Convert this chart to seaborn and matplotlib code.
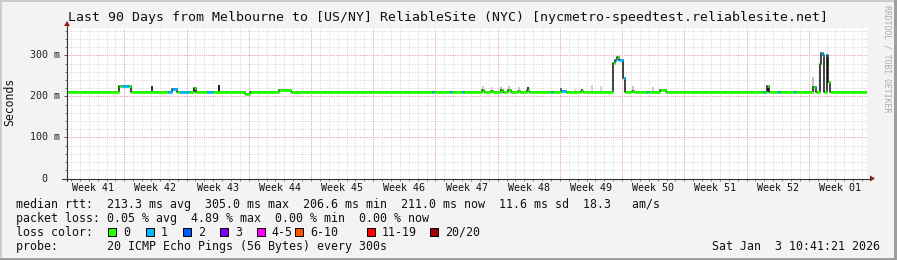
import numpy as np
import pandas as pd
import matplotlib
matplotlib.use("Agg")
import matplotlib.pyplot as plt
import seaborn as sns
from matplotlib.patches import Rectangle, Polygon
from matplotlib.lines import Line2D

# ---------------- data ----------------
# median rtt as a step series: start day (from left edge of the 90-day window), rtt in ms, lost pings (of 20)
seg_day = [0.00, 5.85, 6.19, 6.98, 7.20, 11.37, 11.82, 12.38, 12.72, 13.73,
           14.24, 14.52, 15.75, 16.43, 20.03, 20.59, 23.86, 25.21, 41.08, 41.30,
           43.10, 43.33, 44.45, 44.68, 46.70, 46.90, 47.70, 47.90, 48.84, 49.07,
           49.63, 49.97, 50.75, 50.98, 51.77, 52.00, 54.47, 54.70, 55.59, 56.16,
           57.84, 58.07, 61.41, 61.67, 61.90, 62.10, 62.57, 62.80, 63.58, 63.80,
           65.16, 65.38, 66.74, 67.41, 78.33, 78.55, 78.77, 79.00, 80.00, 80.23,
           81.82, 82.04, 83.90, 84.12, 84.29, 84.69, 84.85, 85.02, 85.20, 85.47,
           85.64, 85.80]
seg_rtt = [211, 226, 226, 226, 211, 211, 218, 211, 211, 211,
           220, 211, 211, 211, 205, 211, 215, 211, 211, 211,
           211, 211, 211, 211, 215, 211, 214, 211, 216, 211,
           216, 211, 214, 211, 216, 211, 211, 211, 213, 211,
           214, 211, 282, 288, 297, 288, 245, 211, 213, 211,
           211, 211, 215, 211, 211, 211, 226, 211, 211, 211,
           211, 211, 224, 222, 211, 279, 305, 300, 211, 300,
           236, 211]
seg_loss = [0, 0, 1, 0, 0, 1, 1, 0, 1, 0,
            0, 0, 1, 0, 0, 0, 0, 0, 1, 0,
            1, 0, 1, 0, 0, 0, 0, 0, 0, 0,
            0, 0, 0, 0, 0, 0, 1, 0, 1, 0,
            0, 0, 0, 1, 0, 1, 1, 0, 0, 0,
            1, 0, 0, 0, 1, 0, 0, 0, 1, 0,
            1, 0, 0, 1, 0, 0, 1, 1, 0, 1,
            0, 0]
end_day = 90.0

# smoke (spread of the individual pings) around the median
smoke_day = [9.56, 14.30, 17.10, 46.80, 47.80, 48.80, 49.70, 50.90, 51.90, 55.60,
             57.20, 57.96, 59.10, 60.10, 63.70, 65.95, 78.90, 83.95]
smoke_hi = [225, 220, 228, 226, 224, 222, 226, 222, 224, 221,
            218, 218, 228, 226, 226, 224, 228, 248]
smoke_shade = ['#222222', '#333333', '#111111', '#C8C8C8', '#D0D0D0', '#B0B0B0', '#C0C0C0',
               '#C8C8C8', '#202020', '#606060', '#D8D8D8', '#505050', '#D0D0D0', '#D0D0D0',
               '#C0C0C0', '#C8C8C8', '#202020', '#C0C0C0']

week_labels = ["Week 41", "Week 42", "Week 43", "Week 44", "Week 45", "Week 46", "Week 47",
               "Week 48", "Week 49", "Week 50", "Week 51", "Week 52", "Week 01"]
first_boundary = 6.45   # day of the first Monday boundary shown (Week 42 start)

y_major = [0, 100, 200, 300]
y_major_labels = ["0  ", "100 m", "200 m", "300 m"]
y_top = 367

loss_names = ["0", "1", "2", "3", "4-5", "6-10", "11-19", "20/20"]
loss_colors = ["#26ff00", "#00b8ff", "#0059ff", "#7e00ff", "#ff00ff", "#ff5500", "#ff0000", "#a00000"]

title = "Last 90 Days from Melbourne to [US/NY] ReliableSite (NYC) [nycmetro-speedtest.reliablesite.net]"
line_rtt = "median rtt:  213.3 ms avg  305.0 ms max  206.6 ms min  211.0 ms now  11.6 ms sd  18.3   am/s"
line_loss = "packet loss: 0.05 % avg  4.89 % max  0.00 % min  0.00 % now"
line_probe = "probe:       20 ICMP Echo Pings (56 Bytes) every 300s"
stamp = "Sat Jan  3 10:41:21 2026"


def loss_index(n):
    if n <= 3:
        return n
    if n <= 5:
        return 4
    if n <= 10:
        return 5
    if n <= 19:
        return 6
    return 7

# ---------------- figure ----------------
sns.set_theme(style="white")
plt.rcParams['font.family'] = ['DejaVu Sans Mono', 'DejaVu Sans']

W, H = 897, 260
fig = plt.figure(figsize=(W / 100, H / 100), dpi=100, facecolor="#F3F3F3")

def fx(px):
    return px / W

def fy(py):
    return 1 - py / H

L, R, T, B = 67, 867, 28, 178.5
ax = fig.add_axes([fx(L), fy(B), fx(R) - fx(L), fy(T) - fy(B)])
ax.set_facecolor("white")
ax.set_xlim(0, end_day)
ax.set_ylim(0, y_top)
for s in ax.spines.values():
    s.set_visible(False)

# grid
grid_dash = (0, (1, 1.2))
for d in np.arange(first_boundary - 7, end_day, 1.0):
    if d <= 0:
        continue
    ax.axvline(d, color="#DADADA", lw=0.72, ls=grid_dash, zorder=0)
for v in range(20, y_top, 20):
    ax.axhline(v, color="#DADADA", lw=0.72, ls=grid_dash, zorder=0)
for d in np.arange(first_boundary, end_day, 7.0):
    ax.axvline(d, color="#F4A6A6", lw=0.72, ls=grid_dash, zorder=0.5)
for v in y_major[1:]:
    ax.axhline(v, color="#F4A6A6", lw=0.72, ls=grid_dash, zorder=0.5)

# smoke
ax.vlines(smoke_day, 211, smoke_hi, colors=smoke_shade, lw=1.3, zorder=1)

# median line: black step (gives dark transitions), then loss colored levels
df = pd.DataFrame({"day": seg_day + [end_day], "rtt": seg_rtt + [seg_rtt[-1]]})
sns.lineplot(data=df, x="day", y="rtt", drawstyle="steps-post", color="#111111",
             lw=1.1, estimator=None, sort=False, ax=ax, zorder=2)
ends = seg_day[1:] + [end_day]
cols = [loss_colors[loss_index(n)] for n in seg_loss]
ax.hlines(seg_rtt, seg_day, ends, colors=cols, lw=2.0, zorder=3)

# ticks
ax.set_xticks([d for d in np.arange(first_boundary - 7, end_day, 1.0) if d > 0], minor=True)
ax.set_xticks(list(np.arange(first_boundary, end_day, 7.0)))
ax.set_xticklabels([])
ax.tick_params(axis="x", which="both", direction="out", length=1.5, width=0.7, color="#777777", bottom=True)
ax.set_yticks(y_major)
ax.set_yticklabels([])
ax.set_yticks(list(range(20, y_top, 20)), minor=True)
ax.tick_params(axis="y", which="major", direction="out", length=2.5, width=0.7, color="#555555", left=True)
ax.tick_params(axis="y", which="minor", direction="out", length=1.5, width=0.7, color="#777777", left=True)
ax.set_xlabel("")
ax.set_ylabel("")

# y tick labels
for v, lab in zip(y_major, y_major_labels):
    ax.text(-7 / 800 * end_day, v, lab, ha="right", va="center", fontsize=7.2,
            color="#222222", clip_on=False)

# week labels
for i, lab in enumerate(week_labels):
    c = first_boundary + 7 * (i - 1) + 3.5
    ax.text(c, -(187.7 - B) / (B - T) * y_top, lab, ha="center", va="center", fontsize=7.2,
            color="#111111", clip_on=False)

# axes lines with arrows
fig.add_artist(Line2D([fx(L), fx(L)], [fy(181), fy(26)], transform=fig.transFigure, color="#333333", lw=0.8))
fig.add_artist(Line2D([fx(62), fx(870)], [fy(B), fy(B)], transform=fig.transFigure, color="#333333", lw=0.8))
fig.add_artist(Polygon([[fx(64), fy(26)], [fx(70), fy(26)], [fx(67), fy(21)]], closed=True,
                       transform=fig.transFigure, color="#8B1E1E", lw=0))
fig.add_artist(Polygon([[fx(870), fy(B - 3)], [fx(870), fy(B + 3)], [fx(875), fy(B)]], closed=True,
                       transform=fig.transFigure, color="#8B1E1E", lw=0))

# texts
fig.text(fx(68), fy(18), title, ha="left", va="center", fontsize=9.5, color="#111111")
fig.text(fx(10), fy(102), "Seconds", ha="center", va="center", rotation=90, fontsize=8.3, color="#111111")
fig.text(fx(887), fy(59), "RRDTOOL / TOBI OETIKER", ha="center", va="center", rotation=270,
         fontsize=5.9, color="#AAAAAA")
fig.text(fx(16), fy(204.3), line_rtt, ha="left", va="center", fontsize=8.4, color="#111111")
fig.text(fx(16), fy(218.3), line_loss, ha="left", va="center", fontsize=8.4, color="#111111")
fig.text(fx(16), fy(232), "loss color:", ha="left", va="center", fontsize=8.4, color="#111111")
fig.text(fx(16), fy(246.3), line_probe, ha="left", va="center", fontsize=8.4, color="#111111")
fig.text(fx(880), fy(246.3), stamp, ha="right", va="center", fontsize=8.4, color="#111111")

box_x = [108.3, 145.7, 182.7, 220.0, 256.7, 295.0, 366.7, 430.0]
for bx, name, c in zip(box_x, loss_names, loss_colors):
    fig.add_artist(Rectangle((fx(bx), fy(236)), fx(8), 8 / H, transform=fig.transFigure,
                             facecolor=c, edgecolor="#000000", lw=0.7))
    fig.text(fx(bx + 15), fy(232), name, ha="left", va="center", fontsize=8.4, color="#111111")

# frame (rrdtool shading)
fig.add_artist(Rectangle((0, fy(2)), 1, 2 / H, transform=fig.transFigure, color="#CBCBCB", lw=0))
fig.add_artist(Rectangle((0, 0), fx(2), 1, transform=fig.transFigure, color="#CBCBCB", lw=0))
fig.add_artist(Rectangle((0, 0), 1, 2 / H, transform=fig.transFigure, color="#9E9E9E", lw=0))
fig.add_artist(Rectangle((fx(W - 3), 0), fx(3), 1, transform=fig.transFigure, color="#9E9E9E", lw=0))

fig.savefig("out.png", dpi=100, facecolor=fig.get_facecolor())
